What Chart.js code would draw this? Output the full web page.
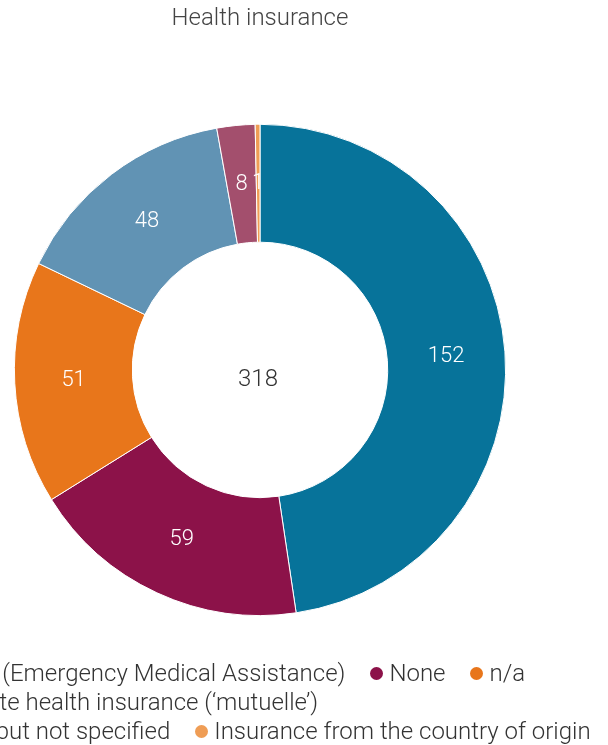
<!DOCTYPE html>
<html>
<head>
<meta charset="utf-8">
<script src="https://cdn.jsdelivr.net/npm/chart.js"></script>
<style>
  html, body { margin: 0; padding: 0; background: #fff; overflow: hidden; width: 608px; height: 745px; }
  #wrap { position: absolute; left: -75px; top: 0; width: 670px; height: 745px; }
  #legend { position: absolute; left: -72px; top: 659px; width: 700px;
            font-family: Roboto, sans-serif; font-weight: 300; font-size: 24px; color: #333333; }
  #legend .row { display: flex; white-space: nowrap; height: 29px; line-height: 29px; }
  #legend .item { display: flex; align-items: center; margin-right: 25px; }
  #legend .dot { width: 13px; height: 13px; border-radius: 50%; margin-right: 6px; flex: none; }
</style>
</head>
<body>
<div id="wrap"><canvas id="insuranceChart"></canvas></div>
<div id="legend"></div>
<script>
const categories = [
    'AME (Emergency Medical Assistance)',
    'None',
    'n/a',
    'Private health insurance (\u2018mutuelle\u2019)',
    'Yes, but not specified',
    'Insurance from the country of origin'
];
const counts = [152, 59, 51, 48, 8, 1];
const totalLabel = 318; // number printed in the hole
const colors = ['#07739a', '#8c1249', '#e8761b', '#6193b4', '#a34f6d', '#ef9d55'];
const legendRows = [[0, 1, 2], [3], [4, 5]];

// draws the value in each slice and the total in the hole
const sliceLabels = {
    id: 'sliceLabels',
    afterDatasetsDraw(chart) {
        const ctx = chart.ctx;
        const meta = chart.getDatasetMeta(0);
        ctx.save();
        ctx.textAlign = 'center';
        ctx.textBaseline = 'middle';
        ctx.font = '300 22px Roboto';
        ctx.fillStyle = '#ffffff';
        meta.data.forEach((arc, i) => {
            const p = arc.tooltipPosition();
            ctx.fillText(String(counts[i]), p.x, p.y);
        });
        ctx.fillStyle = '#333333';
        ctx.font = '300 24px Roboto';
        ctx.fillText(String(totalLabel), meta.data[0].x - 2, meta.data[0].y + 10);
        ctx.restore();
    }
};

// html legend, so the rows can be spaced like the original
const htmlLegend = {
    id: 'htmlLegend',
    afterUpdate(chart) {
        const box = document.getElementById('legend');
        box.innerHTML = '';
        const items = chart.options.plugins.legend.labels.generateLabels(chart);
        legendRows.forEach(row => {
            const rowEl = document.createElement('div');
            rowEl.className = 'row';
            row.forEach(idx => {
                const it = items[idx];
                const el = document.createElement('span');
                el.className = 'item';
                const dot = document.createElement('span');
                dot.className = 'dot';
                dot.style.background = it.fillStyle;
                el.appendChild(dot);
                el.appendChild(document.createTextNode(it.text));
                rowEl.appendChild(el);
            });
            box.appendChild(rowEl);
        });
    }
};

document.addEventListener('DOMContentLoaded', () => {
    const ctx = document.getElementById('insuranceChart').getContext('2d');
    new Chart(ctx, {
        type: 'doughnut',
        data: {
            labels: categories,
            datasets: [{
                data: counts,
                backgroundColor: colors,
                borderColor: '#ffffff',
                borderWidth: 1,
                hoverOffset: 0
            }]
        },
        options: {
            responsive: true,
            maintainAspectRatio: false,
            animation: false,
            cutout: '52%',
            layout: { padding: { top: 0, bottom: 129 } },
            plugins: {
                title: {
                    display: true,
                    text: 'Health insurance',
                    color: '#444444',
                    font: { family: 'Roboto', size: 24, weight: '300' },
                    padding: { top: 5, bottom: 90 }
                },
                legend: { display: false },
                tooltip: { enabled: false }
            }
        },
        plugins: [sliceLabels, htmlLegend]
    });
});
</script>
</body>
</html>
